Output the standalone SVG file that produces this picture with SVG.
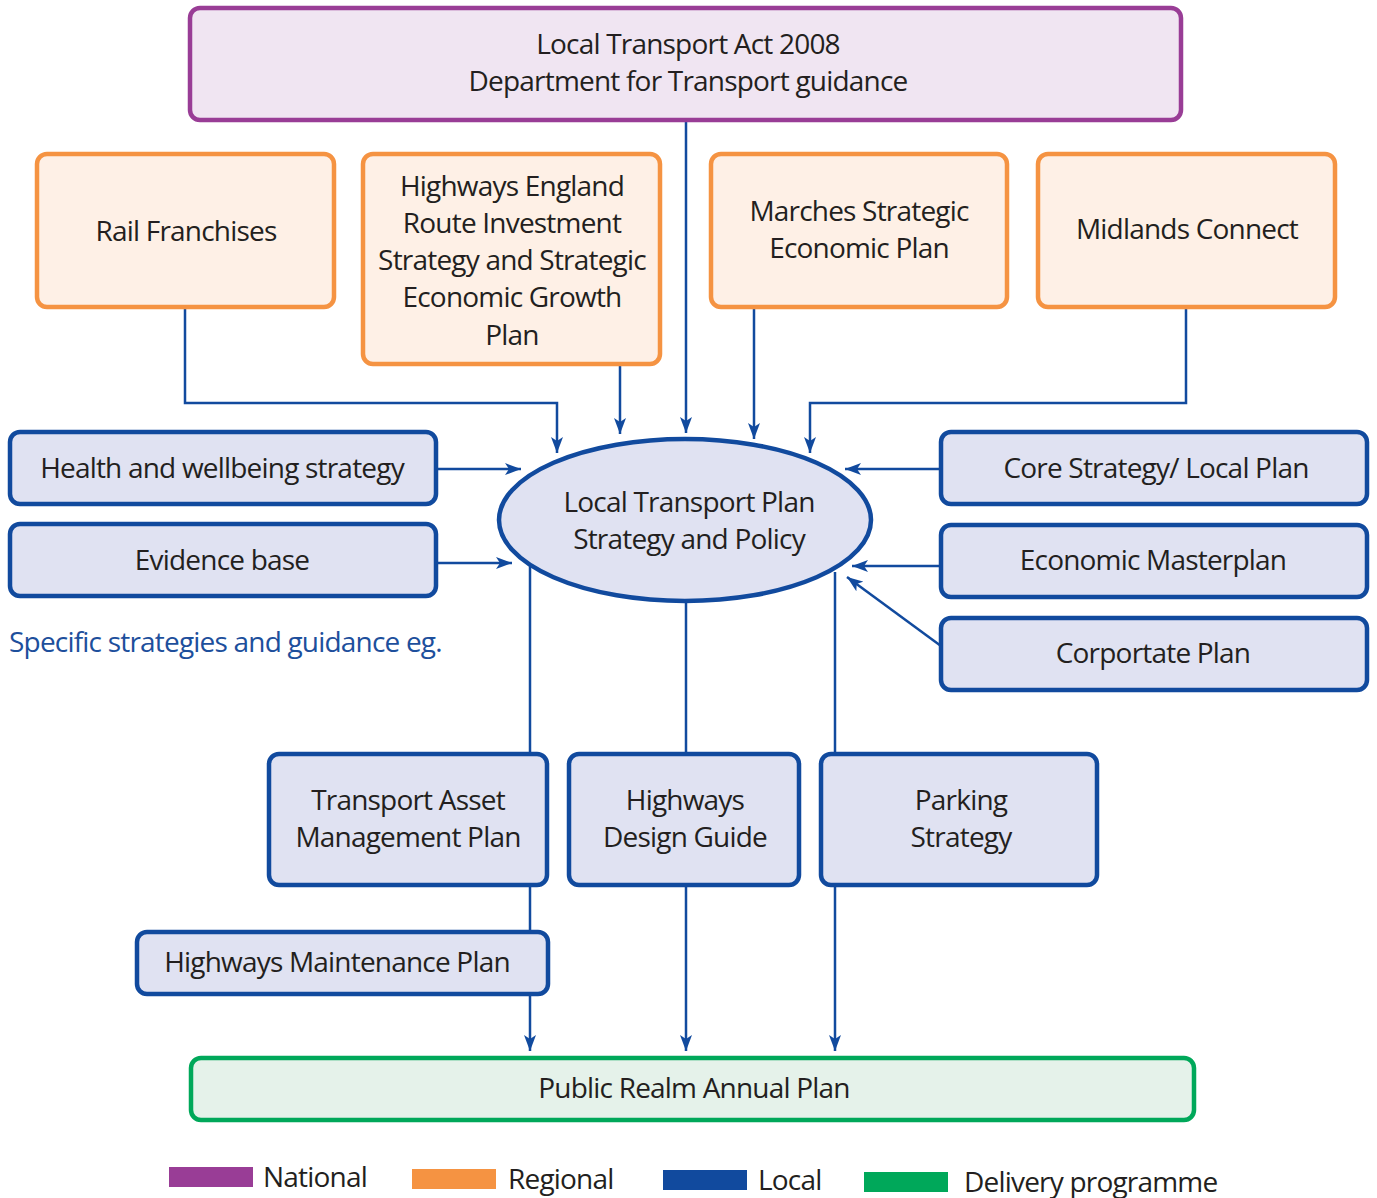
<svg xmlns="http://www.w3.org/2000/svg" width="1377" height="1198" viewBox="0 0 1377 1198">
<defs>
<style>
text{font-family:"Open Sans","Noto Sans","DejaVu Sans",sans-serif;font-size:28px;fill:#231f20;text-anchor:middle;letter-spacing:-0.8px}
.nat{fill:#f0e5f2;stroke:#993d96;stroke-width:4.5}
.reg{fill:#fef0e6;stroke:#f59342;stroke-width:4.5}
.loc{fill:#e0e2f2;stroke:#114a9e;stroke-width:4.5}
.del{fill:#e5f2ea;stroke:#00a85a;stroke-width:4.5}
.con{fill:none;stroke:#114a9e;stroke-width:2.5}
.lg{text-anchor:start}
</style>
<marker id="ah" viewBox="0 0 16 12" refX="16" refY="6" markerWidth="16" markerHeight="12" markerUnits="userSpaceOnUse" orient="auto">
<path d="M0,0 L16,6 L0,12 L4,6 z" fill="#114a9e"/>
</marker>
</defs>
<rect width="1377" height="1198" fill="#ffffff"/>

<g id="connectors">
<path class="con" d="M686,120 V433" marker-end="url(#ah)"/>
<path class="con" d="M185,307 V403 H557 V453" marker-end="url(#ah)"/>
<path class="con" d="M620,364 V434" marker-end="url(#ah)"/>
<path class="con" d="M754,307 V439" marker-end="url(#ah)"/>
<path class="con" d="M1186,307 V403 H810 V453" marker-end="url(#ah)"/>
<path class="con" d="M436,469 H521" marker-end="url(#ah)"/>
<path class="con" d="M436,563 H512" marker-end="url(#ah)"/>
<path class="con" d="M941,469 H845" marker-end="url(#ah)"/>
<path class="con" d="M941,566 H852" marker-end="url(#ah)"/>
<path class="con" d="M941,646 L847,577" marker-end="url(#ah)"/>
<path class="con" d="M530,566 V754"/>
<path class="con" d="M686,600 V754"/>
<path class="con" d="M835,572 V754"/>
<path class="con" d="M530,885 V932"/>
<path class="con" d="M530,994 V1051" marker-end="url(#ah)"/>
<path class="con" d="M686,885 V1051" marker-end="url(#ah)"/>
<path class="con" d="M835,885 V1051" marker-end="url(#ah)"/>
</g>

<g id="ltact">
<rect class="nat" x="190" y="8" width="991" height="112" rx="10"/>
<text x="688" y="54">Local Transport Act 2008</text>
<text x="688" y="91">Department for Transport guidance</text>
</g>

<g id="rail">
<rect class="reg" x="37" y="154" width="297" height="153" rx="10"/>
<text x="186" y="241">Rail Franchises</text>
</g>
<g id="highwaysengland">
<rect class="reg" x="363" y="154" width="297" height="210" rx="10"/>
<text x="512" y="196">Highways England</text>
<text x="512" y="233">Route Investment</text>
<text x="512" y="270">Strategy and Strategic</text>
<text x="512" y="307">Economic Growth</text>
<text x="512" y="345">Plan</text>
</g>
<g id="marches">
<rect class="reg" x="711" y="154" width="296" height="153" rx="10"/>
<text x="859" y="221">Marches Strategic</text>
<text x="859" y="258">Economic Plan</text>
</g>
<g id="midlands">
<rect class="reg" x="1038" y="154" width="297" height="153" rx="10"/>
<text x="1187" y="239">Midlands Connect</text>
</g>

<g id="ltp">
<ellipse cx="685" cy="520" rx="186" ry="81" fill="#e0e2f2" stroke="#114a9e" stroke-width="4.5"/>
<text x="689" y="512">Local Transport Plan</text>
<text x="689" y="549">Strategy and Policy</text>
</g>

<g id="health">
<rect class="loc" x="10" y="432" width="426" height="72" rx="10"/>
<text x="222" y="478">Health and wellbeing strategy</text>
</g>
<g id="evidence">
<rect class="loc" x="10" y="524" width="426" height="72" rx="10"/>
<text x="222" y="570">Evidence base</text>
</g>
<text x="9" y="652" style="text-anchor:start;fill:#1d4f9c">Specific strategies and guidance eg.</text>

<g id="core">
<rect class="loc" x="941" y="432" width="426" height="72" rx="10"/>
<text x="1156" y="478">Core Strategy/ Local Plan</text>
</g>
<g id="econ">
<rect class="loc" x="941" y="525" width="426" height="72" rx="10"/>
<text x="1153" y="570">Economic Masterplan</text>
</g>
<g id="corp">
<rect class="loc" x="941" y="618" width="426" height="72" rx="10"/>
<text x="1153" y="663">Corportate Plan</text>
</g>

<g id="tamp">
<rect class="loc" x="269" y="754" width="278" height="131" rx="10"/>
<text x="408" y="810">Transport Asset</text>
<text x="408" y="847">Management Plan</text>
</g>
<g id="hdg">
<rect class="loc" x="569" y="754" width="230" height="131" rx="10"/>
<text x="685" y="810">Highways</text>
<text x="685" y="847">Design Guide</text>
</g>
<g id="parking">
<rect class="loc" x="821" y="754" width="276" height="131" rx="10"/>
<text x="961" y="810">Parking</text>
<text x="961" y="847">Strategy</text>
</g>
<g id="hmp">
<rect class="loc" x="137" y="932" width="411" height="62" rx="10"/>
<text x="337" y="972">Highways Maintenance Plan</text>
</g>
<g id="public">
<rect class="del" x="191" y="1058" width="1003" height="62" rx="10"/>
<text x="694" y="1098">Public Realm Annual Plan</text>
</g>

<g id="legend">
<rect x="169" y="1167" width="84" height="20" fill="#993d96"/>
<text class="lg" x="263" y="1187">National</text>
<rect x="412" y="1169" width="84" height="20" fill="#f59342"/>
<text class="lg" x="508" y="1189">Regional</text>
<rect x="663" y="1170" width="84" height="20" fill="#114a9e"/>
<text class="lg" x="758" y="1190">Local</text>
<rect x="864" y="1172" width="84" height="20" fill="#00a85a"/>
<text class="lg" x="964" y="1192">Delivery programme</text>
</g>
</svg>
